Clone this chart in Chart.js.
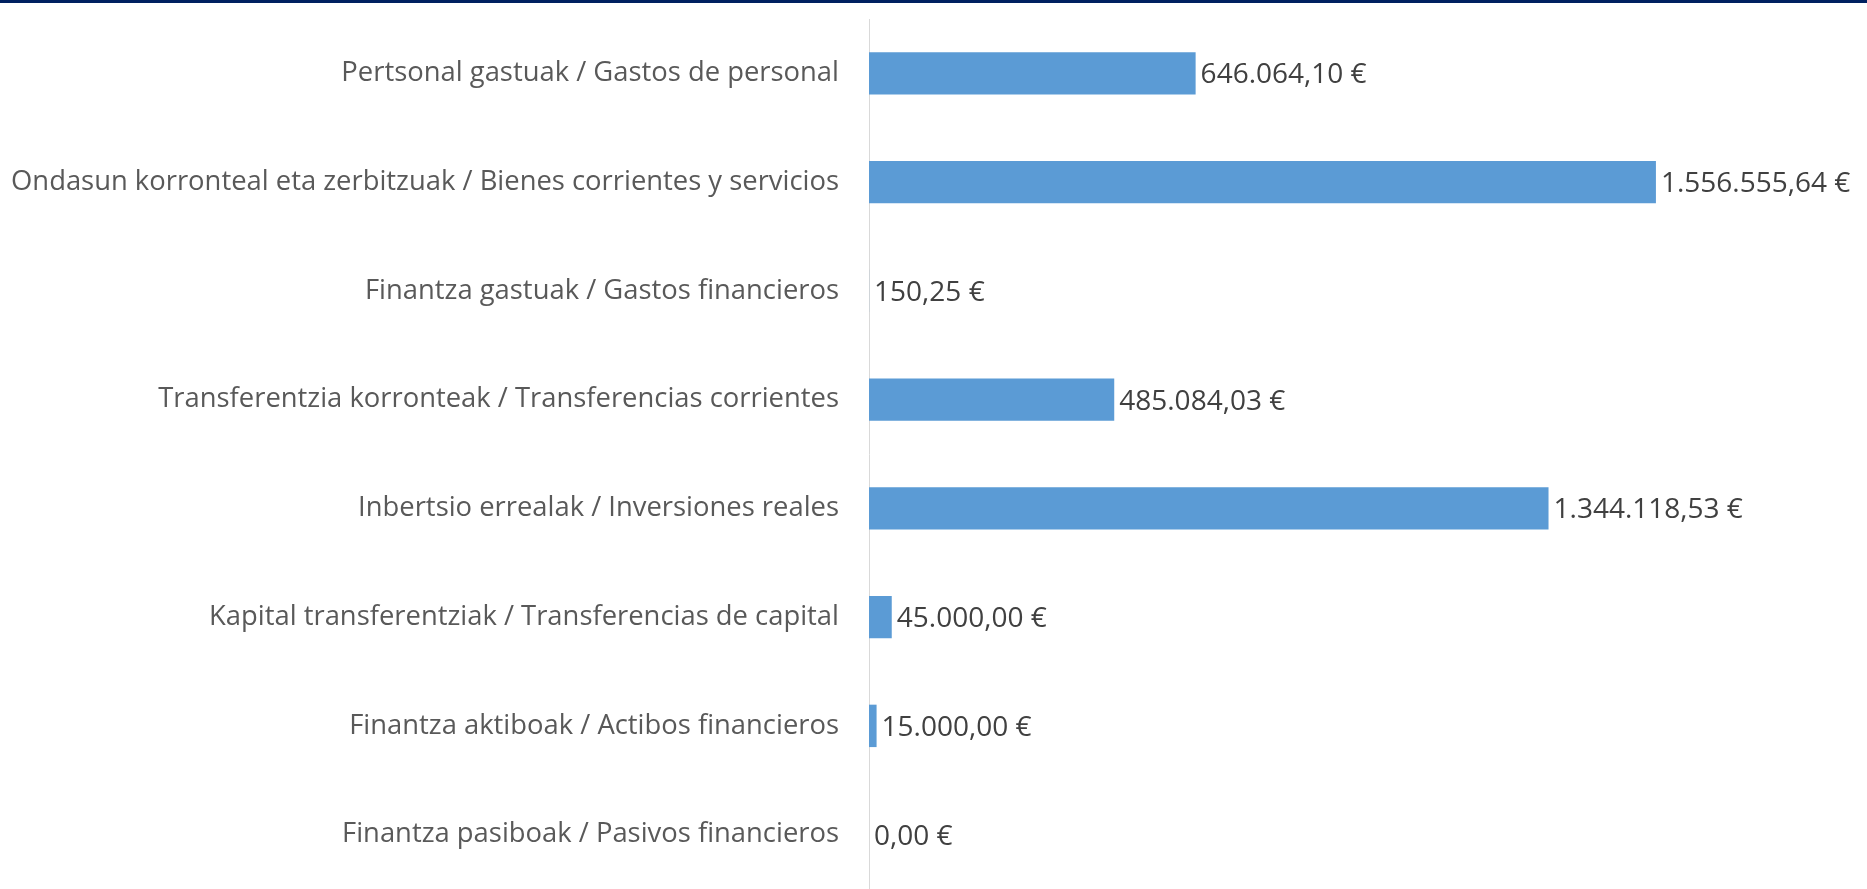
<!DOCTYPE html>
<html>
<head>
<meta charset="utf-8">
<script src="https://cdn.jsdelivr.net/npm/chart.js@4.4.1/dist/chart.umd.min.js"></script>
<style>
  html, body { margin: 0; padding: 0; background: #fff; }
  body { width: 1867px; height: 889px; overflow: hidden; }
  .topbar { height: 3px; background: #002060; }
  .wrap { position: relative; width: 1867px; height: 886px; }
</style>
</head>
<body>
<div class="topbar"></div>
<div class="wrap"><canvas id="gastos"></canvas></div>
<script>
const categorias = [
    'Pertsonal gastuak / Gastos de personal',
    'Ondasun korronteal eta zerbitzuak / Bienes corrientes y servicios',
    'Finantza gastuak / Gastos financieros',
    'Transferentzia korronteak / Transferencias corrientes',
    'Inbertsio errealak / Inversiones reales',
    'Kapital transferentziak / Transferencias de capital',
    'Finantza aktiboak / Actibos financieros',
    'Finantza pasiboak / Pasivos financieros'
];
const importes = [646064.10, 1556555.64, 150.25, 485084.03, 1344118.53, 45000.00, 15000.00, 0.00];
const ejeMax = 1800000;

// formato tipo excel: 1.556.555,64 €
function euros(v) {
    const partes = v.toFixed(2).split('.');
    const entero = partes[0].replace(/\B(?=(\d{3})+(?!\d))/g, '.');
    return entero + ',' + partes[1] + ' €';
}

// etiquetas al final de cada barra
const etiquetas = {
    id: 'etiquetas',
    afterDatasetsDraw(chart) {
        const ctx = chart.ctx;
        const meta = chart.getDatasetMeta(0);
        ctx.save();
        ctx.font = '28px "Open Sans"';
        ctx.fillStyle = '#404040';
        ctx.textAlign = 'left';
        ctx.textBaseline = 'middle';
        meta.data.forEach((bar, i) => {
            ctx.fillText(euros(importes[i]), bar.x + 5, bar.y + 2);
        });
        ctx.restore();
    }
};

const ctx1 = document.getElementById('gastos').getContext('2d');
const gastos = new Chart(ctx1, {
    type: 'bar',
    data: {
        labels: categorias,
        datasets: [{
            data: importes,
            backgroundColor: '#5B9BD5',
            borderWidth: 0,
            categoryPercentage: 1,
            barPercentage: 0.39
        }]
    },
    options: {
        indexAxis: 'y',
        responsive: true,
        maintainAspectRatio: false,
        animation: false,
        layout: {
            padding: { top: 16, right: 88, bottom: 0, left: 0 }
        },
        plugins: {
            legend: { display: false },
            tooltip: { enabled: false }
        },
        scales: {
            x: {
                display: false,
                min: 0,
                max: ejeMax
            },
            y: {
                grid: { display: false, drawTicks: false },
                border: { display: true, color: '#d9d9d9', width: 1 },
                ticks: {
                    color: '#595959',
                    font: { family: 'Open Sans', size: 27.4 },
                    padding: 30
                },
                afterFit(scale) {
                    // ancho fijo del eje y sin margen extra arriba/abajo
                    scale.width = 869;
                    scale.paddingTop = 0;
                    scale.paddingBottom = 0;
                }
            }
        }
    },
    plugins: [etiquetas]
});
</script>
</body>
</html>
